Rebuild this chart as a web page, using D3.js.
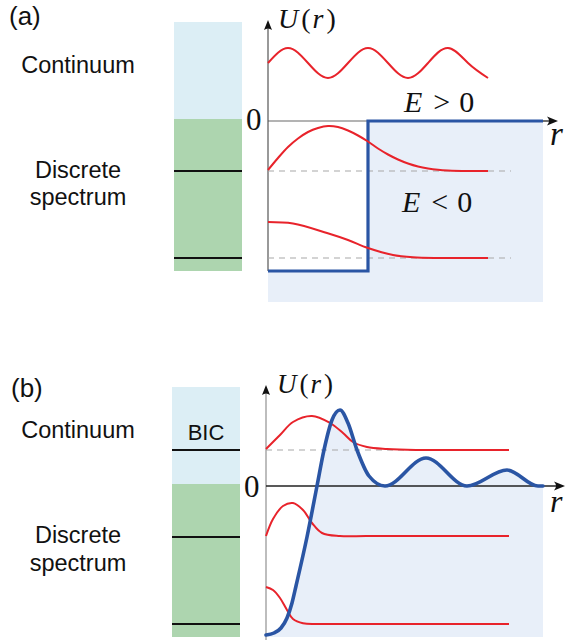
<!DOCTYPE html>
<html>
<head>
<meta charset="utf-8">
<script src="https://cdn.jsdelivr.net/npm/d3@7"></script>
<style>
html,body{margin:0;padding:0;background:#fff;}
svg{display:block;}
</style>
</head>
<body>
<svg id="chart" width="567" height="640"></svg>
<script>
// ---------------- DATA ----------------
const panelLabels = ["(a)", "(b)"];
const spectrumLabels = ["Continuum", "Discrete", "spectrum"];
const bicLabel = "BIC";

// Panel (a): square well, r in arbitrary units, U in arbitrary energy units
const wellA = [[0, -15], [10, -15], [10, 0], [27.5, 0]];
const levelsA = [-5, -13.7];
const barA = {top: 9.9, split: 0.2, bottom: -15};
const continuumWaveA = [[0,5.8],[2,7.3],[4,5.8],[6,4.3],[8,5.8],[10,7.3],[12,5.8],[14,4.3],[16,5.8],[18,7.3],[20,5.8],[22,4.3]];
const boundA1 = [[0,-4.9],[1,-3.7],[2,-2.6],[3,-1.75],[4,-1.1],[5,-0.7],[6,-0.5],[7,-0.6],[8,-0.95],[9,-1.45],[10,-2.05],[11,-2.75],[12,-3.35],[13,-3.85],[14,-4.25],[15,-4.55],[16,-4.75],[17,-4.88],[18,-4.95],[20,-5],[22,-5]];
const boundA2 = [[0,-10.1],[2.5,-10.25],[5.9,-11.2],[8,-11.9],[10,-12.7],[12.5,-13.4],[14.5,-13.63],[17,-13.7],[19.5,-13.7],[22,-13.7]];

// Panel (b): Wigner–von Neumann-like potential
const potentialB = [[0,-14.9],[0.8,-14.7],[1.5,-14.2],[2.1,-13.2],[2.6,-11.7],[3.0,-10.0],[4.1,-5.1],[5.1,0],[5.8,3.6],[6.6,6.6],[7.4,7.6],[8.2,6.3],[9.1,3.6],[10.3,1.0],[11.9,0],[16,2.8],[20.1,0],[24.1,1.6],[27.2,0],[27.7,0]];
const levelsB = [3.6, -5.0, -13.8];
const barLinesB = [3.6, -5.1, -13.8];
const barB = {top: 9.9, split: 0.2, bottom: -15.1};
const statesB = [
  [[0,3.7],[1.4,5.1],[2.7,6.4],[4.6,7.0],[6.4,6.3],[7.7,5.3],[8.7,4.4],[10.1,3.9],[12.1,3.7],[15,3.6],[19,3.6],[24.3,3.6]],
  [[0,-5.0],[0.7,-3.3],[1.7,-2.0],[2.7,-1.7],[3.7,-2.4],[4.6,-3.7],[5.6,-4.7],[7.4,-5.0],[10,-5.0],[15,-5.0],[24.3,-5.0]],
  [[0,-10.1],[0.7,-10.4],[1.4,-11.2],[2.1,-12.4],[2.7,-13.3],[3.7,-13.72],[5,-13.8],[8,-13.8],[14,-13.8],[24.3,-13.8]]
];

// ---------------- STYLE ----------------
const C = {
  red: "#e8232b",
  blue: "#2a55a4",
  shade: "#e8eff9",
  barBlue: "#dceef5",
  barGreen: "#add5af",
  dash: "#a8a8a8"
};
const sans = "'Liberation Sans', Arial, Helvetica, sans-serif";
const serif = "'Liberation Serif', 'Times New Roman', serif";

const svg = d3.select("#chart");

function arrowHead(g, x, y, dir) {
  const p = d3.path();
  if (dir === "right") {
    p.moveTo(x, y);
    p.lineTo(x - 11, y - 4.5);
    p.quadraticCurveTo(x - 7, y, x - 11, y + 4.5);
    p.closePath();
  } else {
    p.moveTo(x, y);
    p.lineTo(x - 4, y + 10);
    p.quadraticCurveTo(x, y + 7, x + 4, y + 10);
    p.closePath();
  }
  g.append("path").attr("d", p.toString()).attr("fill", "#111");
}

// parts: [text, italic, dx]
function mathLabel(g, x, y, size, parts) {
  const t = g.append("text").attr("x", x).attr("y", y)
    .attr("font-family", serif).attr("font-size", size).attr("fill", "#111");
  parts.forEach(([s, italic, dx]) => {
    t.append("tspan").text(s).attr("font-style", italic ? "italic" : "normal").attr("dx", dx || 0);
  });
  return t;
}

function drawBar(g, y, x0, x1, bar, lines) {
  g.append("rect").attr("x", x0).attr("width", x1 - x0)
    .attr("y", y(bar.top)).attr("height", y(bar.split) - y(bar.top)).attr("fill", C.barBlue);
  g.append("rect").attr("x", x0).attr("width", x1 - x0)
    .attr("y", y(bar.split)).attr("height", y(bar.bottom) - y(bar.split)).attr("fill", C.barGreen);
  g.selectAll(null).data(lines).enter().append("line")
    .attr("x1", x0).attr("x2", x1).attr("y1", d => y(d)).attr("y2", d => y(d))
    .attr("stroke", "#111").attr("stroke-width", 2);
}

function spectrumText(g, cx, ys) {
  ys.forEach((yy, i) => {
    g.append("text").attr("x", cx).attr("y", yy).attr("text-anchor", "middle")
      .attr("font-family", sans).attr("font-size", 23.5).attr("fill", "#111")
      .text(spectrumLabels[i]);
  });
}

// ================= PANEL (a) =================
{
  const g = svg.append("g");
  const x = d3.scaleLinear().domain([0, 29]).range([268, 558]);
  const y = d3.scaleLinear().domain([0, -15]).range([121, 271]);
  const line = d3.line().x(d => x(d[0])).y(d => y(d[1]));

  g.append("text").attr("x", 9).attr("y", 25).attr("font-family", sans)
    .attr("font-size", 26).attr("fill", "#111").text(panelLabels[0]);

  drawBar(g, y, 174, 242, barA, levelsA);
  spectrumText(g, 78, [72.5, 178, 205]);

  const shadeBottom = -18.1;
  const shadePts = wellA.concat([[27.5, shadeBottom], [0, shadeBottom]]);
  g.append("path").attr("d", line(shadePts) + "Z").attr("fill", C.shade);

  g.append("line").attr("x1", x(0)).attr("x2", x(10)).attr("y1", y(0)).attr("y2", y(0))
    .attr("stroke", "#9a9a9a").attr("stroke-width", 1.3);
  g.append("line").attr("x1", x(27)).attr("x2", x(29) - 6).attr("y1", y(0)).attr("y2", y(0))
    .attr("stroke", "#222").attr("stroke-width", 1.3);
  arrowHead(g, x(29), y(0), "right");
  g.append("line").attr("x1", x(0)).attr("x2", x(0)).attr("y1", y(-15)).attr("y2", y(10.1) + 6)
    .attr("stroke", "#555").attr("stroke-width", 1.2);
  arrowHead(g, x(0), y(10.1), "up");

  g.selectAll(null).data(levelsA).enter().append("line")
    .attr("x1", x(0)).attr("x2", x(24.3)).attr("y1", d => y(d)).attr("y2", d => y(d))
    .attr("stroke", C.dash).attr("stroke-width", 1.1).attr("stroke-dasharray", "6,5");

  g.append("path").attr("d", line(wellA)).attr("fill", "none")
    .attr("stroke", C.blue).attr("stroke-width", 3.2).attr("stroke-linejoin", "miter");

  const smooth = d3.line().x(d => x(d[0])).y(d => y(d[1])).curve(d3.curveNatural);
  const cr = d3.line().x(d => x(d[0])).y(d => y(d[1])).curve(d3.curveCatmullRom.alpha(0.5));
  g.append("path").attr("d", smooth(continuumWaveA)).attr("fill", "none")
    .attr("stroke", C.red).attr("stroke-width", 2);
  [boundA1, boundA2].forEach(s => {
    g.append("path").attr("d", cr(s)).attr("fill", "none")
      .attr("stroke", C.red).attr("stroke-width", 2);
  });

  g.append("text").attr("x", 246).attr("y", 130).attr("font-family", serif)
    .attr("font-size", 31).attr("fill", "#111").text("0");
  mathLabel(g, 278, 28, 28, [["U", true], ["(", false, 3], ["r", true, 2], [")", false, 3]]);
  mathLabel(g, 404, 112, 30, [["E", true], [">", false, 11], ["0", false, 9]]);
  mathLabel(g, 402, 212, 30, [["E", true], ["<", false, 11], ["0", false, 9]]);
  mathLabel(g, 550, 145, 33, [["r", true]]);
}

// ================= PANEL (b) =================
{
  const g = svg.append("g");
  const x = d3.scaleLinear().domain([0, 29.9]).range([266, 565]);
  const y = d3.scaleLinear().domain([0, -15]).range([486, 636]);
  const mono = d3.line().x(d => x(d[0])).y(d => y(d[1])).curve(d3.curveMonotoneX);
  const cr = d3.line().x(d => x(d[0])).y(d => y(d[1])).curve(d3.curveCatmullRom.alpha(0.5));

  g.append("text").attr("x", 11).attr("y", 397).attr("font-family", sans)
    .attr("font-size", 26).attr("fill", "#111").text(panelLabels[1]);

  drawBar(g, y, 172, 240, barB, barLinesB);
  spectrumText(g, 78, [438, 543, 571]);
  g.append("text").attr("x", 206).attr("y", 440).attr("text-anchor", "middle")
    .attr("font-family", sans).attr("font-size", 22).attr("fill", "#111").text(bicLabel);

  const shadeBottom = -15.1;
  const area = d3.area().x(d => x(d[0])).y0(y(shadeBottom)).y1(d => y(d[1])).curve(d3.curveMonotoneX);
  g.append("path").attr("d", area(potentialB)).attr("fill", C.shade);

  g.append("line").attr("x1", x(0)).attr("x2", x(0)).attr("y1", y(-15.4)).attr("y2", y(10.1) + 6)
    .attr("stroke", "#9a9a9a").attr("stroke-width", 1.3);
  arrowHead(g, x(0), y(10.1), "up");
  g.append("line").attr("x1", x(0)).attr("x2", x(29.9) - 6).attr("y1", y(0)).attr("y2", y(0))
    .attr("stroke", "#222").attr("stroke-width", 1.3);
  arrowHead(g, x(29.9), y(0), "right");

  g.append("line").attr("x1", x(0)).attr("x2", x(24.3)).attr("y1", y(levelsB[0])).attr("y2", y(levelsB[0]))
    .attr("stroke", C.dash).attr("stroke-width", 1.1).attr("stroke-dasharray", "6,5");

  statesB.forEach(s => {
    g.append("path").attr("d", cr(s)).attr("fill", "none")
      .attr("stroke", C.red).attr("stroke-width", 2);
  });

  g.append("path").attr("d", mono(potentialB)).attr("fill", "none")
    .attr("stroke", C.blue).attr("stroke-width", 3.6).attr("stroke-linecap", "round");

  g.append("text").attr("x", 244).attr("y", 497).attr("font-family", serif)
    .attr("font-size", 31).attr("fill", "#111").text("0");
  mathLabel(g, 277, 393, 27, [["U", true], ["(", false, 3], ["r", true, 2], [")", false, 3]]);
  mathLabel(g, 550, 512, 32, [["r", true]]);
}
</script>
</body>
</html>
